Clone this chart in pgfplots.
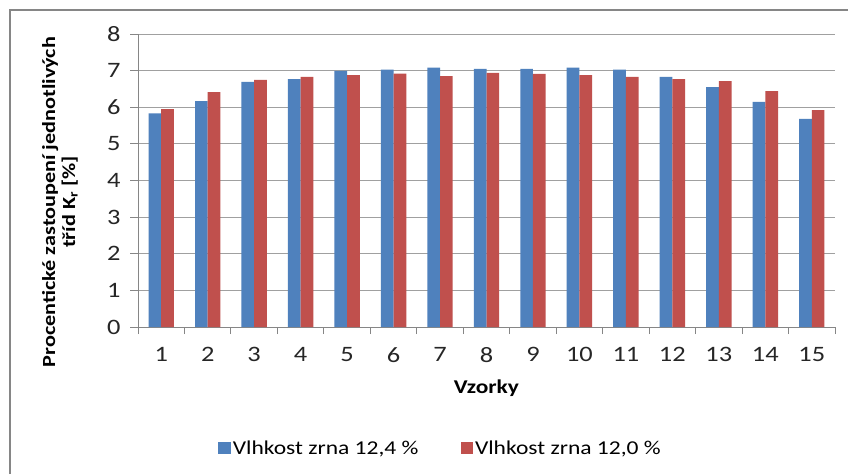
\documentclass[border=0pt]{standalone}
\usepackage{fontspec}
\setmainfont{Carlito}[FakeStretch=1.2]
\usepackage{pgfplots}
\pgfplotsset{compat=1.18}
\definecolor{exblue}{HTML}{4F81BD}
\definecolor{exred}{HTML}{C0504D}
\definecolor{axgray}{HTML}{868686}
\definecolor{gridgray}{HTML}{A0A0A0}
\begin{document}
\begin{tikzpicture}[x=1pt,y=1pt]
\path[use as bounding box] (0,0) rectangle (848,474);
\fill[white] (0,0) rectangle (848,474);
\draw[axgray, line width=1.2pt] (10,0) -- (10,464) -- (848,464);
\begin{axis}[
  at={(138pt,147pt)}, anchor=south west,
  scale only axis, width=697pt, height=293pt,
  ymin=0, ymax=8, ytick={0,1,...,8},
  xmin=0.5, xmax=15.5, xtick={1,2,...,15},
  minor xtick={0.5,1.5,...,15.5},
  axis x line*=bottom, axis y line*=left,
  axis line style={axgray, line width=0.9pt},
  ymajorgrids, grid style={gridgray, line width=0.9pt},
  tick align=outside,
  major tick length=8pt, minor tick length=7pt,
  major x tick style={draw=none},
  minor x tick style={axgray, line width=0.9pt},
  major y tick style={axgray, line width=0.9pt},
  /pgf/number format/assume math mode=true,
  tick label style={font=\fontsize{22}{22}\selectfont, text=black!85},
  yticklabel style={xshift=-6pt},
  xticklabel style={yshift=-9pt},
  xlabel={Vzorky},
  xlabel style={font=\bfseries\fontsize{19.5}{22}\selectfont, yshift=-10pt},
  legend style={at={(0.434,-0.413)}, anchor=center, draw=none, fill=none,
    legend columns=2, font=\fontsize{19.6}{22}\selectfont,
    /tikz/every even column/.append style={column sep=40pt},
    legend cell align=left},
  legend image code/.code={\fill[#1] (0pt,-6pt) rectangle (12.5pt,6.5pt);},
]
\addplot[ybar, fill=exblue, draw=none, bar width=12.7pt, bar shift=-6.35pt] coordinates {
(1,5.83) (2,6.17) (3,6.69) (4,6.77) (5,6.99) (6,7.03) (7,7.08) (8,7.05)
(9,7.05) (10,7.08) (11,7.03) (12,6.83) (13,6.55) (14,6.15) (15,5.68)};
\addlegendentry{Vlhkost zrna 12,4 \%}
\addplot[ybar, fill=exred, draw=none, bar width=12.7pt, bar shift=6.35pt] coordinates {
(1,5.95) (2,6.41) (3,6.75) (4,6.83) (5,6.88) (6,6.92) (7,6.85) (8,6.94)
(9,6.91) (10,6.88) (11,6.83) (12,6.77) (13,6.71) (14,6.44) (15,5.92)};
\addlegendentry{Vlhkost zrna 12,0 \%}
\end{axis}
\node[rotate=90, align=center, font=\bfseries\fontsize{18.5}{20}\selectfont] at (60,272)
  {Procentické zastoupení jednotlivých\\tříd K\textsubscript{r} [\%]};
\end{tikzpicture}
\end{document}
